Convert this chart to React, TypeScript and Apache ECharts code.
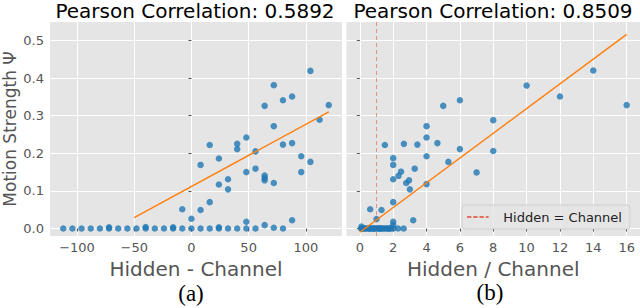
import React, { useEffect, useRef } from "react";
import * as echarts from "echarts";

// ---- data ----
const leftTitle = "Pearson Correlation: 0.5892";
const rightTitle = "Pearson Correlation: 0.8509";

// panel (a): Hidden - Channel vs Motion Strength
const leftDiff = [
  -112, -104, -96, -88, -80, -72, -72, -64, -56, -48, -40, -40, -32, -24, -16, -16, -8, 0, 8, 16, 24, 24, 32, 40, 48, 56, 72, 80,
  -8, 0, 8, 16, 8, 24, 24, 32, 32, 48, 48, 56, 64, 64, 64, 72, 64, 88, 96, 96, 104,
  16, 40, 40, 48, 56, 64, 72, 72, 80, 80, 88, 88, 104, 112, 120,
];
const leftStrength = [
  0, 0, 0, 0, 0, 0, 0.003, 0, 0, 0, 0, 0.004, 0, 0, 0, 0.003, 0, 0, 0, 0, 0, 0.003, 0, 0, 0, 0, 0.002, 0,
  0.051, 0.026, 0.049, 0.07, 0.169, 0.186, 0.117, 0.131, 0.104, 0.15, 0.018, 0.159, 0.141, 0.134, 0.128, 0.121, 0.009, 0.022, 0.192, 0.15, 0.177,
  0.222, 0.225, 0.211, 0.242, 0.205, 0.326, 0.381, 0.272, 0.341, 0.223, 0.351, 0.227, 0.419, 0.289, 0.328,
];
const leftFitX = [-50, 120];
const leftFitY = [0.029, 0.31];

// panel (b): Hidden / Channel vs Motion Strength
const rightRatio = [
  0.07, 0.13, 0.2, 0.25, 0.33, 0.4, 0.5, 0.57, 0.6, 0.67, 0.75, 0.8, 0.86, 0.9, 1.0, 1.1, 1.14, 1.2, 1.25, 1.33, 1.4, 1.5, 1.6, 1.67, 1.75, 1.8, 1.86, 2.0, 2.29, 2.63, 0.1,
  14, 10, 12, 16, 6, 5, 8, 4, 4, 1.5, 2.64, 3.45, 4.65, 6, 8, 2, 4, 2, 5.31, 3.29, 7, 2.47, 2.32, 2, 2.95, 2.78, 3, 4, 2, 0.62, 1.3, 1.0, 2, 3.2, 2,
];
const rightStrength = [
  0, 0, 0, 0, 0, 0, 0, 0, 0, 0, 0, 0, 0, 0, 0, 0, 0, 0, 0, 0, 0, 0, 0, 0, 0, 0, 0, 0, 0, 0, 0.005,
  0.42, 0.38, 0.351, 0.328, 0.341, 0.326, 0.288, 0.272, 0.242, 0.222, 0.225, 0.223, 0.227, 0.211, 0.206, 0.187, 0.192, 0.169, 0.177, 0.159, 0.149, 0.151, 0.14, 0.131, 0.128, 0.121, 0.104, 0.118, 0.07, 0.051, 0.049, 0.025, 0.018, 0.022, 0.009,
];
const rightFitX = [0, 16];
const rightFitY = [-0.01, 0.516];
const hiddenEqualsChannel = 1;

const leftXTicks = [-100, -50, 0, 50, 100];
const rightXTicks = [0, 2, 4, 6, 8, 10, 12, 14, 16];
const yTicks = [0, 0.1, 0.2, 0.3, 0.4, 0.5];

const zip = (a: number[], b: number[]) => a.map((v, i) => [v, b[i]]);

export default function App() {
  const ref = useRef<HTMLDivElement>(null);
  useEffect(() => {
    if (!ref.current) return;
    const chart = echarts.init(ref.current, undefined, { renderer: "svg" });
    const yMin = -0.02;
    const yMax = 0.549;
    const tickColor = "#555";
    const font = "DejaVu Sans";
    const baseX = (gridIndex: number, min: number, max: number, ticks: number[], name: string) => ({
      gridIndex,
      type: "value",
      min,
      max,
      axisLine: { show: false },
      axisTick: { show: true, length: 3, lineStyle: { color: tickColor }, customValues: ticks },
      axisLabel: {
        customValues: ticks,
        color: tickColor,
        fontSize: 13,
        fontFamily: font,
        margin: 5,
        formatter: (v: number) => (v < 0 ? "\u2212" + Math.abs(v) : String(v)),
      },
      splitLine: { show: true, lineStyle: { color: "#ffffff", width: 1 } },
      name,
      nameLocation: "middle",
      nameGap: 19,
      nameTextStyle: { fontSize: 20, color: tickColor, fontFamily: font },
    });
    const baseY = (gridIndex: number, showLabel: boolean) => ({
      gridIndex,
      type: "value",
      min: yMin,
      max: yMax,
      axisLine: { show: false },
      axisTick: { show: true, length: 3, lineStyle: { color: tickColor }, customValues: yTicks },
      axisLabel: {
        show: showLabel,
        customValues: yTicks,
        color: tickColor,
        fontSize: 13,
        fontFamily: font,
        margin: 6,
        formatter: (v: number) => v.toFixed(1),
      },
      splitLine: { show: true, lineStyle: { color: "#ffffff", width: 1 } },
      ...(showLabel
        ? {
            name: "Motion Strength \u03A8",
            nameLocation: "middle",
            nameGap: 32,
            nameTextStyle: { fontSize: 17, color: tickColor, fontFamily: font },
          }
        : {}),
    });
    chart.setOption({
      animation: false,
      backgroundColor: "#ffffff",
      textStyle: { fontFamily: font },
      grid: [
        { left: 49, top: 22, width: 293, height: 214, show: true, backgroundColor: "#e5e5e5", borderWidth: 0 },
        { left: 346.5, top: 22, width: 293.5, height: 214, show: true, backgroundColor: "#e5e5e5", borderWidth: 0 },
      ],
      xAxis: [
        baseX(0, -123.6, 131.6, leftXTicks, "Hidden - Channel"),
        baseX(1, -0.8, 16.8, rightXTicks, "Hidden / Channel"),
      ],
      yAxis: [baseY(0, true), baseY(1, false)],
      legend: {
        data: [
          {
            name: "Hidden = Channel",
            icon: "path://M0,0h5.5v2h-5.5z M7.8,0h5.5v2h-5.5z M15.6,0h5.5v2h-5.5z M23.4,0h3.6v2h-3.6z",
          },
        ],
        left: 462,
        top: 205,
        padding: [5, 8, 5, 5],
        itemWidth: 27,
        itemHeight: 1.6,
        selectedMode: false,
        backgroundColor: "rgba(229,229,229,0.8)",
        borderColor: "#cfcfcf",
        borderWidth: 1,
        borderRadius: 3,
        itemStyle: { color: "#E24A33", opacity: 1 },
        textStyle: { fontSize: 13, color: "#222", fontFamily: font, padding: [0, 0, 0, 7], lineHeight: 14 },
      },
      graphic: [
        { type: "text", x: 195, y: 11, style: { text: leftTitle, fontSize: 20, fontFamily: font, fill: "#000", align: "center", verticalAlign: "middle" } },
        { type: "text", x: 493, y: 11, style: { text: rightTitle, fontSize: 20, fontFamily: font, fill: "#000", align: "center", verticalAlign: "middle" } },
        { type: "text", x: 191, y: 293, style: { text: "(a)", fontSize: 23, fontFamily: "Liberation Serif", fill: "#000", align: "center", verticalAlign: "middle" } },
        { type: "text", x: 490, y: 292, style: { text: "(b)", fontSize: 23, fontFamily: "Liberation Serif", fill: "#000", align: "center", verticalAlign: "middle" } },
      ],
      series: [
        {
          type: "scatter",
          xAxisIndex: 0,
          yAxisIndex: 0,
          data: zip(leftDiff, leftStrength),
          symbolSize: 6.5,
          itemStyle: { color: "#1f77b4" },
          z: 2,
        },
        {
          type: "line",
          xAxisIndex: 0,
          yAxisIndex: 0,
          data: zip(leftFitX, leftFitY),
          symbol: "none",
          lineStyle: { color: "#ff7f0e", width: 1.5 },
          z: 3,
        },
        {
          type: "line",
          name: "Hidden = Channel",
          xAxisIndex: 1,
          yAxisIndex: 1,
          data: [
            [hiddenEqualsChannel, yMin],
            [hiddenEqualsChannel, yMax],
          ],
          symbol: "none",
          lineStyle: { color: "#E24A33", width: 1, type: [4, 3], opacity: 0.55 },
          itemStyle: { color: "#E24A33" },
          z: 1,
        },
        {
          type: "scatter",
          xAxisIndex: 1,
          yAxisIndex: 1,
          data: zip(rightRatio, rightStrength),
          symbolSize: 6.5,
          itemStyle: { color: "#1f77b4" },
          z: 2,
        },
        {
          type: "line",
          xAxisIndex: 1,
          yAxisIndex: 1,
          data: zip(rightFitX, rightFitY),
          symbol: "none",
          lineStyle: { color: "#ff7f0e", width: 1.5 },
          z: 3,
        },
      ],
    });
    return () => chart.dispose();
  }, []);
  return <div ref={ref} style={{ position: "absolute", left: 0, top: 0, width: 640, height: 308 }} />;
}
